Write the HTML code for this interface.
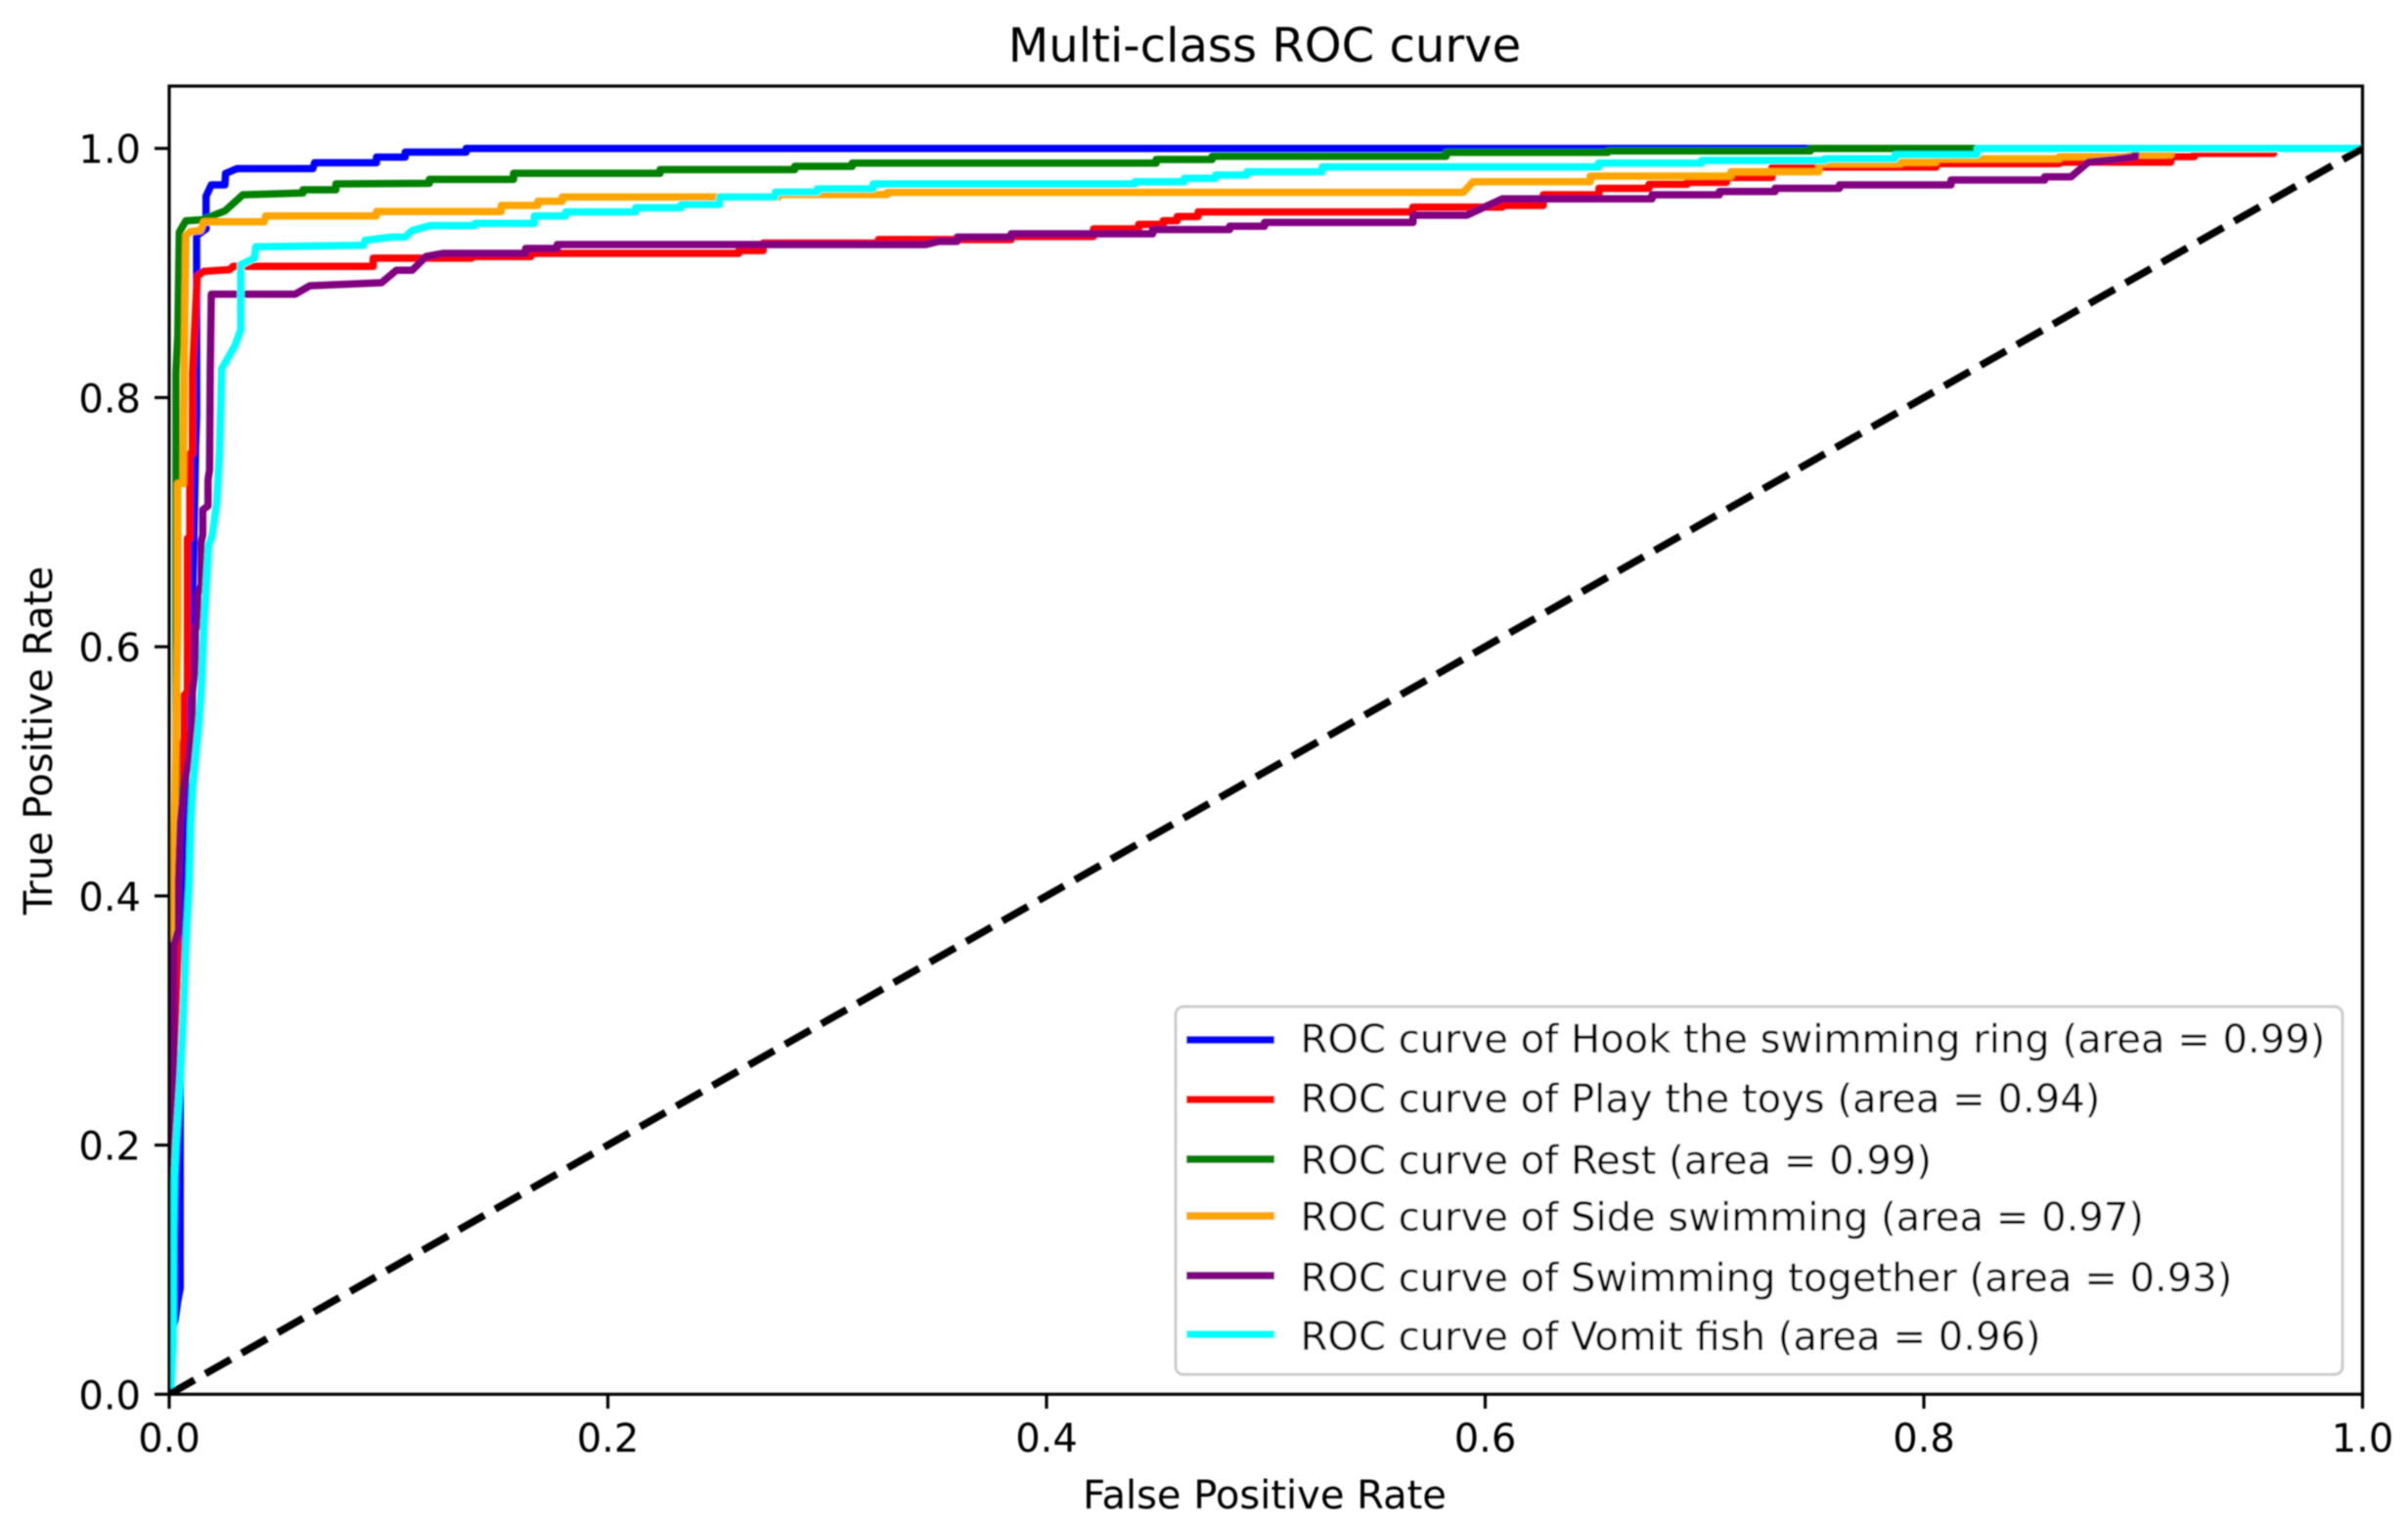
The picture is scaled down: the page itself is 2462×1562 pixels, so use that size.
<!DOCTYPE html>
<html>
<head>
<meta charset="utf-8">
<title>Multi-class ROC curve</title>
<style>
html,body{margin:0;padding:0;background:#fff;}
svg{display:block;}
text{font-family:"DejaVu Sans","Liberation Sans",sans-serif;fill:#000;}
</style>
</head>
<body>
<svg id="chart" xmlns="http://www.w3.org/2000/svg" width="2462" height="1562" viewBox="0 0 2462 1562">
  <defs>
    <clipPath id="plot-clip"><rect x="173" y="88" width="2242.5" height="1337.3"></rect></clipPath>
    <filter id="soft" x="0" y="0" width="100%" height="100%" filterUnits="userSpaceOnUse" primitiveUnits="userSpaceOnUse"><feGaussianBlur stdDeviation="0.8"></feGaussianBlur></filter>
  </defs>
  <rect x="0" y="0" width="2462" height="1562" fill="#fff"></rect>
  <g id="root" filter="url(#soft)">
    <g id="curves" clip-path="url(#plot-clip)"></g>
    <g id="ticks"></g>
    <rect x="173" y="88" width="2242.5" height="1337.3" fill="none" stroke="#000" stroke-width="3.2"></rect>
    <text x="1293" y="63" font-size="48.1" text-anchor="middle">Multi-class ROC curve</text>
    <text x="1293" y="1542" font-size="40" text-anchor="middle">False Positive Rate</text>
    <text x="0" y="0" font-size="40" text-anchor="middle" transform="translate(53,757) rotate(-90)">True Positive Rate</text>
    <g>
      <rect x="1202" y="1029" width="1193" height="376" rx="8" ry="8" fill="#fff" fill-opacity="0.8" stroke="#ccc" stroke-width="3"></rect>
      <line x1="1213" x2="1303" y1="1063" y2="1063" stroke="#0000ff" stroke-width="8"></line>
      <text x="1329.5" y="1076" font-size="40.1">ROC curve of Hook the swimming ring (area = 0.99)</text>
      <line x1="1213" x2="1303" y1="1124" y2="1124" stroke="#ff0000" stroke-width="8"></line>
      <text x="1329.5" y="1137" font-size="40.1">ROC curve of Play the toys (area = 0.94)</text>
      <line x1="1213" x2="1303" y1="1185" y2="1185" stroke="#008000" stroke-width="8"></line>
      <text x="1329.5" y="1200" font-size="40.1">ROC curve of Rest (area = 0.99)</text>
      <line x1="1213" x2="1303" y1="1243" y2="1243" stroke="#ffa500" stroke-width="8"></line>
      <text x="1329.5" y="1258" font-size="40.1">ROC curve of Side swimming (area = 0.97)</text>
      <line x1="1213" x2="1303" y1="1304" y2="1304" stroke="#800080" stroke-width="8"></line>
      <text x="1329.5" y="1320" font-size="40.1">ROC curve of Swimming together (area = 0.93)</text>
      <line x1="1213" x2="1303" y1="1364" y2="1364" stroke="#00ffff" stroke-width="8"></line>
      <text x="1329.5" y="1380" font-size="40.1">ROC curve of Vomit fish (area = 0.96)</text>
    </g>
  </g>
</svg>
<script>
var xTickValues = [0, 0.2, 0.4, 0.6, 0.8, 1];
var yTickValues = [0, 0.2, 0.4, 0.6, 0.8, 1];
var seriesNames = ["hook", "play", "rest", "side", "together", "vomit"];

var hookFpr = [0,.001,.0027,.0039,.005,.005,.0065,.0076,.0095,.0116,
  .012,.0125,.0125,.0168,.0168,.0192,.0254,.0257,.031,.0655,
  .0663,.0945,.0945,.1076,.1076,.1354,.1354,1];
var hookTpr = [0,.05,.06,.075,.085,.32,.39,.5,.54,.72,
  .76,.785,.93,.9354,.9616,.9707,.9707,.9799,.9838,.9838,
  .9885,.9885,.993,.993,.997,.997,1,1];

var playFpr = [0,.0025,.0036,.0045,.0061,.0061,.0068,.0068,.0083,.0083,
  .0094,.0094,.0106,.0106,.0128,.0158,.0276,.0291,.093,.093,
  .1379,.1379,.1649,.1649,.2597,.2597,.2708,.2708,.3234,.3234,
  .3839,.3839,.4214,.4214,.442,.442,.4532,.4532,.4596,.4596,
  .4691,.4691,.567,.567,.6078,.6078,.6265,.6265,.6519,.6519,
  .6747,.6747,.6921,.6921,.71,.71,.7308,.7308,.8056,.8056,
  .8617,.8617,.9126,.9126,.9234,.9234,.9595,.9595,1];
var playTpr = [0,.26,.32,.48,.506,.52,.527,.561,.564,.687,
  .687,.755,.755,.82,.8975,.9013,.9027,.9053,.9053,.9119,
  .9119,.9132,.9132,.9158,.9158,.918,.918,.924,.924,.9268,
  .9268,.9293,.9293,.9354,.9354,.939,.939,.942,.942,.9453,
  .9453,.949,.949,.9529,.9529,.9542,.9542,.9628,.9628,.968,
  .968,.9712,.9712,.9728,.9728,.9767,.9767,.985,.985,.9878,
  .9878,.989,.989,.9934,.9934,.996,.996,1,1];

var restFpr = [0,.001,.0031,.0031,.0039,.0046,.0076,.015,.0254,.0336,
  .061,.061,.076,.076,.1186,.1186,.157,.157,.2238,.2238,
  .2852,.2852,.3114,.3114,.45,.45,.4755,.4755,.5822,.5822,
  .6559,.6559,.7483,.7483,1];
var restTpr = [0,.42,.46,.82,.85,.9328,.9419,.9427,.9498,.9628,
  .9642,.9668,.9668,.9715,.972,.9751,.9751,.98,.98,.983,
  .983,.9856,.9856,.9882,.9882,.9911,.9911,.9937,.9937,.9968,
  .9968,.998,.998,1,1];

var sideFpr = [0,.001,.0019,.0021,.0024,.0039,.0039,.0064,.0068,.0076,
  .0098,.0143,.0158,.0433,.044,.0945,.0945,.1514,.1514,.1681,
  .1681,.1792,.1792,.2779,.2779,.3274,.3274,.59,.5945,.6479,
  .6479,.7121,.7121,.7521,.7521,.7896,.7896,.8056,.8056,.8618,
  .8618,.8939,.8939,.9126,.9126,1];
var sideTpr = [0,.355,.373,.412,.4535,.616,.731,.731,.82,.9302,
  .9333,.9341,.9411,.9411,.9458,.9458,.9493,.9493,.9542,.9542,
  .9576,.9576,.961,.961,.963,.963,.9647,.9647,.9733,.9733,
  .9778,.9778,.9812,.9812,.9878,.9878,.989,.989,.9916,.9916,
  .9934,.9934,.995,.995,1,1];

var togetherFpr = [0,.0015,.0015,.002,.0021,.0021,.0042,.0042,.0051,.0065,
  .0091,.0106,.0106,.012,.012,.0131,.0131,.0146,.0146,.0153,
  .0153,.0177,.0177,.0184,.0187,.0192,.0574,.0641,.0968,.1012,
  .1036,.1108,.1171,.1251,.1625,.1625,.1769,.1769,.3449,.351,
  .3593,.3593,.3839,.3839,.4484,.4484,.4835,.4835,.4994,.4994,
  .5671,.5671,.5917,.6078,.6761,.6761,.7068,.7068,.7322,.7322,
  .7615,.7615,.8124,.8124,.8551,.8551,.8671,.875,.8858,.8965,
  .8965,1];
var togetherTpr = [0,.05,.19,.208,.28,.36,.373,.412,.459,.485,
  .511,.538,.564,.582,.616,.616,.642,.65,.684,.69,
  .71,.713,.734,.742,.82,.883,.883,.8897,.8922,.8987,
  .9022,.9022,.9132,.9158,.9158,.9197,.9197,.9228,.9228,.9254,
  .9254,.9288,.9288,.9315,.9315,.9349,.9349,.9375,.9375,.9406,
  .9406,.9464,.9464,.9595,.9595,.9628,.9628,.9654,.9654,.968,
  .968,.9707,.9707,.9746,.9746,.9772,.9772,.989,.9908,.9934,
  1,1];

var vomitFpr = [0,.0009,.0018,.0019,.0024,.0031,.0051,.0065,.0076,.0091,
  .0098,.0106,.012,.0135,.0146,.0158,.018,.0195,.0217,.0229,
  .0239,.0239,.0299,.0326,.0326,.0388,.0395,.0886,.0893,.1012,
  .1075,.1108,.119,.1394,.1394,.1665,.1665,.1808,.1808,.2127,
  .2127,.2334,.2334,.2509,.2509,.2764,.2764,.2955,.2955,.321,
  .321,.4404,.4404,.4628,.4628,.4771,.4771,.4914,.4914,.5257,
  .5257,.6517,.6517,.6987,.6987,.7548,.7548,.7869,.7869,.8243,
  .8243,1];
var vomitTpr = [0,.007,.043,.122,.174,.2,.256,.308,.36,.412,
  .459,.485,.511,.538,.564,.6163,.6817,.6886,.7156,.755,
  .8203,.823,.8414,.8544,.9066,.9118,.921,.9222,.9262,.9288,
  .9288,.9341,.938,.938,.9398,.9398,.9458,.9458,.949,.949,
  .9524,.9524,.955,.955,.961,.961,.9649,.9649,.9675,.9675,
  .9715,.9715,.9733,.9733,.976,.976,.9786,.9786,.9812,.9812,
  .9851,.9851,.9882,.9882,.9903,.9903,.9916,.9916,.995,.995,
  1,1];

var chanceFpr = [0, 1];
var chanceTpr = [0, 1];

var SVG_NS = "http://www.w3.org/2000/svg";
function xScale(v) { return 173 + v * 2242.5; }
function yScale(v) { return 1425.3 - v * 1273.6; }
function pointsFrom(xs, ys) {
  return xs.map(function (x, i) { return xScale(x).toFixed(2) + "," + yScale(ys[i]).toFixed(2); }).join(" ");
}

var curvesLayer = document.getElementById("curves");
var ticksLayer = document.getElementById("ticks");

function drawCurve(name, color, xs, ys) {
  var line = document.createElementNS(SVG_NS, "polyline");
  line.setAttribute("points", pointsFrom(xs, ys));
  line.setAttribute("fill", "none");
  line.setAttribute("stroke", color);
  line.setAttribute("stroke-width", "7.5");
  line.setAttribute("stroke-linejoin", "round");
  
  
  curvesLayer.appendChild(line);
  return line;
}

drawCurve("curve-" + seriesNames[0], "#0000ff", hookFpr, hookTpr);
drawCurve("curve-" + seriesNames[1], "#ff0000", playFpr, playTpr);
drawCurve("curve-" + seriesNames[2], "#008000", restFpr, restTpr);
drawCurve("curve-" + seriesNames[3], "#ffa500", sideFpr, sideTpr);
drawCurve("curve-" + seriesNames[4], "#800080", togetherFpr, togetherTpr);
drawCurve("curve-" + seriesNames[5], "#00ffff", vomitFpr, vomitTpr);
var chanceLine = drawCurve("chance-diagonal", "#000000", chanceFpr, chanceTpr);
chanceLine.setAttribute("stroke-dasharray", "29.7 12.9");

xTickValues.forEach(function (v) {
  var px = xScale(v);
  var tick = document.createElementNS(SVG_NS, "line");
  tick.setAttribute("x1", px);
  tick.setAttribute("x2", px);
  tick.setAttribute("y1", 1425.3);
  tick.setAttribute("y2", 1440);
  tick.setAttribute("stroke", "#000");
  tick.setAttribute("stroke-width", "3.2");
  
  
  ticksLayer.appendChild(tick);
  var label = document.createElementNS(SVG_NS, "text");
  label.setAttribute("x", px);
  label.setAttribute("y", 1484);
  label.setAttribute("font-size", "40");
  label.setAttribute("text-anchor", "middle");
  
  
  label.textContent = v.toFixed(1);
  ticksLayer.appendChild(label);
});

yTickValues.forEach(function (v) {
  var py = yScale(v);
  var tick = document.createElementNS(SVG_NS, "line");
  tick.setAttribute("x1", 158);
  tick.setAttribute("x2", 173);
  tick.setAttribute("y1", py);
  tick.setAttribute("y2", py);
  tick.setAttribute("stroke", "#000");
  tick.setAttribute("stroke-width", "3.2");
  
  
  ticksLayer.appendChild(tick);
  var label = document.createElementNS(SVG_NS, "text");
  label.setAttribute("x", 144);
  label.setAttribute("y", py + 15);
  label.setAttribute("font-size", "40");
  label.setAttribute("text-anchor", "end");
  
  
  label.textContent = v.toFixed(1);
  ticksLayer.appendChild(label);
});
</script>
</body>
</html>
